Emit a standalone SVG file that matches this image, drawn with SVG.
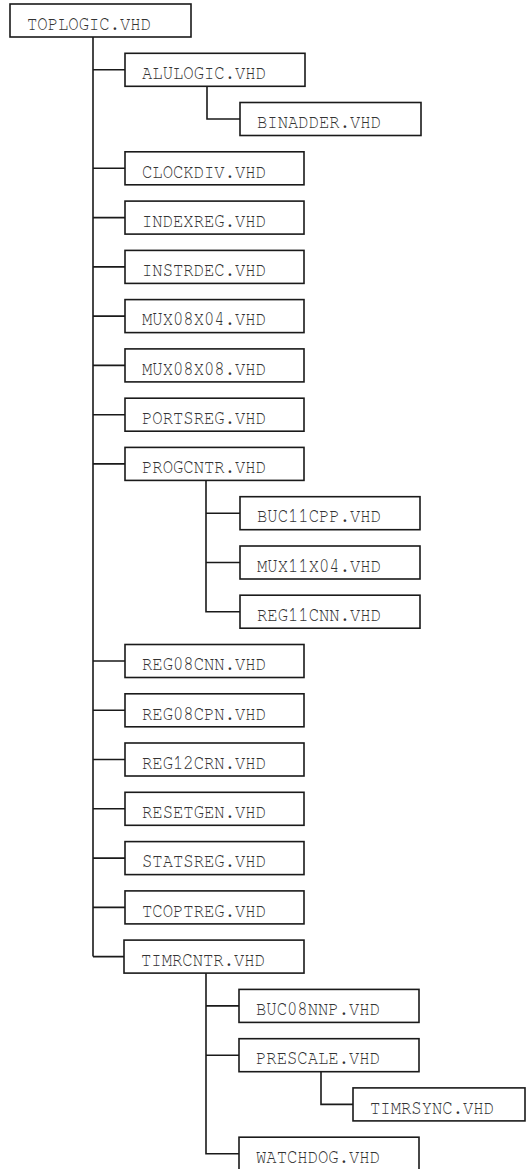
<svg xmlns="http://www.w3.org/2000/svg" width="528" height="1169" viewBox="0 0 528 1169">
<style>
rect.b{fill:#fff;stroke:#1a1a1a;stroke-width:1.6}
text{font-family:"FreeMono","Nimbus Mono PS","Nimbus Mono L","Courier","Liberation Mono",monospace;font-size:20px;fill:#333}
#connectors path{fill:none;stroke:#1a1a1a;stroke-width:1.6}
</style>
<rect width="528" height="1169" fill="#fff"/>
<g id="connectors">
<path d="M93 37V956.6M93 69.8H125M93 168.3H125M93 217.6H125M93 266.9H125M93 316.1H125M93 365.4H125M93 414.7H125M93 463.9H125M93 661H125M93 710.3H125M93 759.5H125M93 808.8H125M93 858.1H125M93 907.4H125M93 956.6H125"/>
<path d="M207 86.3V119H240"/>
<path d="M206 480.4V611.7H240M206 513.2H240M206 562.5H240"/>
<path d="M206 973.1V1153.7H240M206 1005.9H240M206 1055.2H240"/>
<path d="M321 1071.7V1104.4H353"/>
</g>
<g id="n0"><rect class="b" x="10" y="4" width="181" height="33"/><text x="27" y="30" textLength="124" lengthAdjust="spacingAndGlyphs">TOPLOGIC.VHD</text></g>
<g id="n1"><rect class="b" x="125" y="53.3" width="180" height="33"/><text x="142" y="79" textLength="124" lengthAdjust="spacingAndGlyphs">ALULOGIC.VHD</text></g>
<g id="n2"><rect class="b" x="240" y="102.5" width="181" height="33"/><text x="257" y="128.2" textLength="124" lengthAdjust="spacingAndGlyphs">BINADDER.VHD</text></g>
<g id="n3"><rect class="b" x="125" y="151.8" width="179" height="33"/><text x="142" y="177.5" textLength="124" lengthAdjust="spacingAndGlyphs">CLOCKDIV.VHD</text></g>
<g id="n4"><rect class="b" x="125" y="201.1" width="179" height="33"/><text x="142" y="226.8" textLength="124" lengthAdjust="spacingAndGlyphs">INDEXREG.VHD</text></g>
<g id="n5"><rect class="b" x="125" y="250.4" width="179" height="33"/><text x="142" y="276.1" textLength="124" lengthAdjust="spacingAndGlyphs">INSTRDEC.VHD</text></g>
<g id="n6"><rect class="b" x="125" y="299.6" width="179" height="33"/><text x="142" y="325.3" textLength="124" lengthAdjust="spacingAndGlyphs">MUX08X04.VHD</text></g>
<g id="n7"><rect class="b" x="125" y="348.9" width="179" height="33"/><text x="142" y="374.6" textLength="124" lengthAdjust="spacingAndGlyphs">MUX08X08.VHD</text></g>
<g id="n8"><rect class="b" x="125" y="398.2" width="179" height="33"/><text x="142" y="423.9" textLength="124" lengthAdjust="spacingAndGlyphs">PORTSREG.VHD</text></g>
<g id="n9"><rect class="b" x="125" y="447.4" width="179" height="33"/><text x="142" y="473.1" textLength="124" lengthAdjust="spacingAndGlyphs">PROGCNTR.VHD</text></g>
<g id="n10"><rect class="b" x="240" y="496.7" width="180" height="33"/><text x="257" y="522.4" textLength="124" lengthAdjust="spacingAndGlyphs">BUC11CPP.VHD</text></g>
<g id="n11"><rect class="b" x="240" y="546" width="180" height="33"/><text x="257" y="571.7" textLength="124" lengthAdjust="spacingAndGlyphs">MUX11X04.VHD</text></g>
<g id="n12"><rect class="b" x="240" y="595.2" width="180" height="33"/><text x="257" y="620.9" textLength="124" lengthAdjust="spacingAndGlyphs">REG11CNN.VHD</text></g>
<g id="n13"><rect class="b" x="125" y="644.5" width="179" height="33"/><text x="142" y="670.2" textLength="124" lengthAdjust="spacingAndGlyphs">REG08CNN.VHD</text></g>
<g id="n14"><rect class="b" x="125" y="693.8" width="179" height="33"/><text x="142" y="719.5" textLength="124" lengthAdjust="spacingAndGlyphs">REG08CPN.VHD</text></g>
<g id="n15"><rect class="b" x="125" y="743" width="179" height="33"/><text x="142" y="768.7" textLength="124" lengthAdjust="spacingAndGlyphs">REG12CRN.VHD</text></g>
<g id="n16"><rect class="b" x="125" y="792.3" width="179" height="33"/><text x="142" y="818" textLength="124" lengthAdjust="spacingAndGlyphs">RESETGEN.VHD</text></g>
<g id="n17"><rect class="b" x="125" y="841.6" width="179" height="33"/><text x="142" y="867.3" textLength="124" lengthAdjust="spacingAndGlyphs">STATSREG.VHD</text></g>
<g id="n18"><rect class="b" x="125" y="890.9" width="179" height="33"/><text x="142" y="916.6" textLength="124" lengthAdjust="spacingAndGlyphs">TCOPTREG.VHD</text></g>
<g id="n19"><rect class="b" x="124" y="940.1" width="180" height="33"/><text x="141" y="965.8" textLength="124" lengthAdjust="spacingAndGlyphs">TIMRCNTR.VHD</text></g>
<g id="n20"><rect class="b" x="239" y="989.4" width="180" height="33"/><text x="256" y="1015.1" textLength="124" lengthAdjust="spacingAndGlyphs">BUC08NNP.VHD</text></g>
<g id="n21"><rect class="b" x="239" y="1038.7" width="180" height="33"/><text x="256" y="1064.4" textLength="124" lengthAdjust="spacingAndGlyphs">PRESCALE.VHD</text></g>
<g id="n22"><rect class="b" x="353" y="1087.9" width="172" height="33"/><text x="370" y="1113.6" textLength="124" lengthAdjust="spacingAndGlyphs">TIMRSYNC.VHD</text></g>
<g id="n23"><rect class="b" x="239" y="1137.2" width="180" height="33"/><text x="256" y="1162.9" textLength="124" lengthAdjust="spacingAndGlyphs">WATCHDOG.VHD</text></g>
</svg>
